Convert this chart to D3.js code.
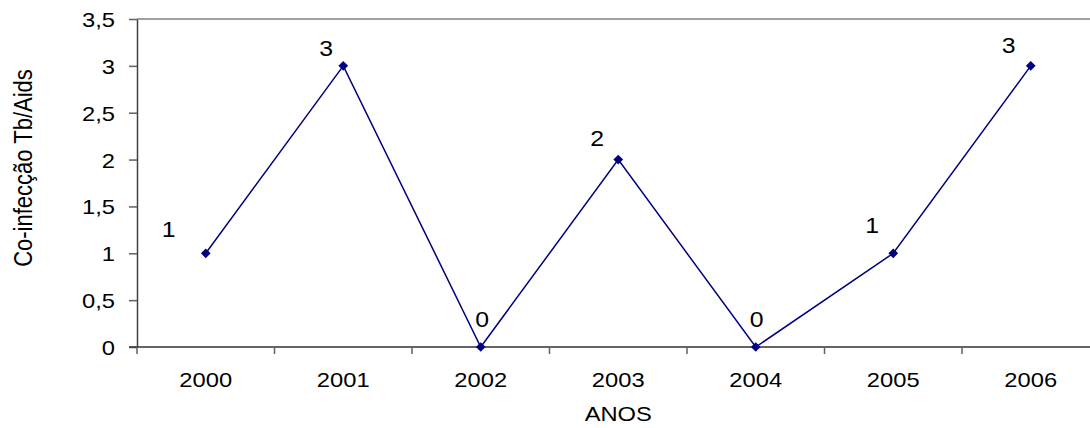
<!DOCTYPE html>
<html>
<head>
<meta charset="utf-8">
<script src="https://cdn.jsdelivr.net/npm/d3@7"></script>
<style>
  html, body { margin: 0; padding: 0; background: #fff; }
  svg text { font-family: "Liberation Sans", Arial, sans-serif; fill: #000; }
</style>
</head>
<body>
<svg id="chart" width="1090" height="428"></svg>
<script>
// Tuberculosis/AIDS co-infection cases per year
const years = ["2000", "2001", "2002", "2003", "2004", "2005", "2006"];
const cases = [1, 3, 0, 2, 0, 1, 3];
const yTicks = [0, 0.5, 1, 1.5, 2, 2.5, 3, 3.5];
const xTitle = "ANOS";
const yTitle = "Co-infecção Tb/Aids";

const svg = d3.select("#chart");
const plotLeft = 137, plotTop = 19, plotBottom = 347;
const step = 137.5;
const stretch = 1.13; // text is drawn slightly wide

const x = d3.scaleBand()
  .domain(years)
  .range([plotLeft, plotLeft + step * years.length]);

const y = d3.scaleLinear()
  .domain([0, 3.5])
  .range([plotBottom, plotTop]);

const fmt = v => String(v).replace(".", ",");

// helper: place a horizontally stretched text at (px, py)
function wideText(sel, px, py, anchor) {
  return sel.attr("transform", `translate(${px},${py}) scale(${stretch},1)`)
    .attr("text-anchor", anchor);
}

// top frame line
svg.append("line")
  .attr("x1", plotLeft).attr("x2", 1090)
  .attr("y1", y(3.5)).attr("y2", y(3.5))
  .attr("stroke", "#a0a0a0").attr("stroke-width", 2);

// y axis
const yAxis = svg.append("g")
  .attr("transform", `translate(${plotLeft},0)`)
  .call(d3.axisLeft(y).tickValues(yTicks).tickFormat(fmt).tickSize(8).tickSizeOuter(0));
yAxis.select(".domain").attr("stroke", "#404040").attr("stroke-width", 1.5);
yAxis.selectAll(".tick line").attr("stroke", "#606060").attr("stroke-width", 1.5);
yAxis.selectAll(".tick text").remove();
yAxis.selectAll(".tick").append("text")
  .each(function () {
    wideText(d3.select(this), -22, 0, "end");
  })
  .attr("dy", "0.36em")
  .style("font-size", "21px")
  .text(d => fmt(d));

// x axis with ticks on category boundaries
const xAxis = svg.append("g")
  .attr("transform", `translate(0,${plotBottom})`);
xAxis.append("line")
  .attr("x1", plotLeft - 8).attr("x2", 1090)
  .attr("stroke", "#303030").attr("stroke-width", 1.5);
const boundaries = years.map(d => x(d));
xAxis.selectAll("line.bt").data(boundaries).join("line")
  .attr("class", "bt")
  .attr("x1", d => d).attr("x2", d => d)
  .attr("y1", 0).attr("y2", 7)
  .attr("stroke", "#606060").attr("stroke-width", 1.5);
xAxis.selectAll("text").data(years).join("text")
  .each(function (d) {
    wideText(d3.select(this), x(d) + x.bandwidth() / 2, 40, "middle");
  })
  .style("font-size", "21px")
  .text(d => d);

// axis titles
wideText(svg.append("text"), x(years[3]) + x.bandwidth() / 2, 421, "middle")
  .style("font-size", "21px")
  .text(xTitle);

svg.append("text")
  .attr("transform", `translate(32,168) rotate(-90) scale(1,${stretch})`)
  .attr("text-anchor", "middle")
  .style("font-size", "22px")
  .text(yTitle);

// series line
const cx = i => x(years[i]) + x.bandwidth() / 2;
const line = d3.line()
  .x((d, i) => cx(i))
  .y(d => y(d));

svg.append("path")
  .datum(cases)
  .attr("d", line)
  .attr("fill", "none")
  .attr("stroke", "#000080")
  .attr("stroke-width", 1.5);

svg.selectAll("path.marker").data(cases).join("path")
  .attr("class", "marker")
  .attr("d", d3.symbol(d3.symbolDiamond2, 60))
  .attr("transform", (d, i) => `translate(${cx(i)},${y(d)})`)
  .attr("fill", "#000080");

// value labels, each nudged off its point
const labelDx = [-37, -17, 1.5, -21, 1, -21, -22];
const labelDy = [-16, -10, -20, -14, -20, -20, -13];
svg.selectAll("text.val").data(cases).join("text")
  .attr("class", "val")
  .each(function (d, i) {
    wideText(d3.select(this), cx(i) + labelDx[i], y(d) + labelDy[i], "middle");
  })
  .style("font-size", "22px")
  .text(d => d);
</script>
</body>
</html>
